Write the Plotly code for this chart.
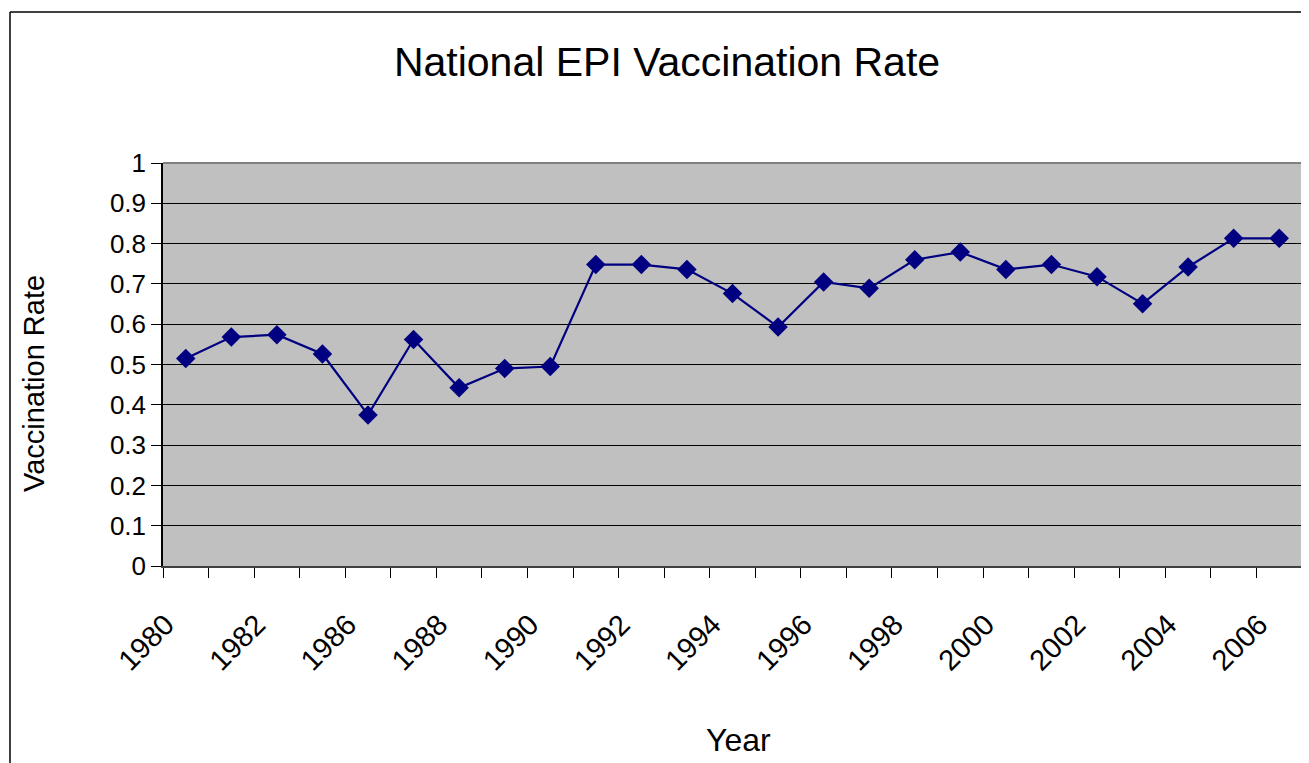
import plotly.graph_objects as go

years = ["1980", "1981", "1982", "1984", "1986", "1987", "1988", "1989", "1990",
         "1991", "1992", "1993", "1994", "1995", "1996", "1997", "1998", "1999",
         "2000", "2001", "2002", "2003", "2004", "2005", "2006"]
rates = [0.515, 0.568, 0.574, 0.526, 0.375, 0.562, 0.442, 0.490, 0.495,
         0.748, 0.748, 0.736, 0.676, 0.593, 0.705, 0.689, 0.760, 0.779,
         0.736, 0.748, 0.718, 0.651, 0.742, 0.813, 0.813]
tick_labels = ["1980", "", "1982", "", "1986", "", "1988", "", "1990", "", "1992", "",
               "1994", "", "1996", "", "1998", "", "2000", "", "2002", "", "2004", "", "2006"]
y_ticks = [0, 0.1, 0.2, 0.3, 0.4, 0.5, 0.6, 0.7, 0.8, 0.9, 1]
y_tick_text = ["0", "0.1", "0.2", "0.3", "0.4", "0.5", "0.6", "0.7", "0.8", "0.9", "1"]

FONT = "Liberation Sans, Arial, sans-serif"
W, H = 1309, 763
OFF = 8  # page body margin offset
L, R, T, B = 155, 15, 155, 205
pw, ph = W - L - R, H - T - B
X0, Y1 = L + OFF, H - B + OFF  # plot left and bottom in screen px

def px(x):
    return (x - X0) / pw

def py(y):
    return (Y1 - y) / ph

fig = go.Figure()
fig.add_trace(go.Scatter(
    x=years, y=rates, mode="lines+markers",
    line=dict(color="#000080", width=2.2),
    marker=dict(symbol="diamond", size=15, color="#000080"),
    showlegend=False, cliponaxis=False,
))

fig.update_layout(
    width=W, height=H,
    margin=dict(l=L, r=R, t=T, b=B),
    paper_bgcolor="white",
    plot_bgcolor="#C0C0C0",
    font=dict(family=FONT, color="black", size=26),
    title=dict(text="National EPI Vaccination Rate", x=(667 - OFF) / W, xanchor="center",
               y=1 - (62 - OFF) / H, yanchor="middle",
               font=dict(family=FONT, size=41, color="black")),
    xaxis=dict(type="category", categoryorder="array", categoryarray=years,
               tickmode="array", tickvals=years, ticktext=tick_labels,
               tickson="boundaries", ticks="outside", ticklen=10, tickcolor="black",
               tickangle=-45, showgrid=False, showline=True, linecolor="#404040",
               linewidth=2, range=[-0.5, len(years) - 0.5],
               ticklabelstandoff=28, ticklabelshift=-20,
               tickfont=dict(family=FONT, size=29, color="black")),
    yaxis=dict(range=[0, 1], tickmode="array", tickvals=y_ticks, ticktext=y_tick_text,
               ticks="outside", ticklen=10, tickcolor="black",
               showgrid=True, gridcolor="black", gridwidth=1,
               showline=True, linecolor="black", linewidth=1.5, zeroline=False,
               tickfont=dict(family=FONT, size=26, color="black")),
    annotations=[
        dict(text="Vaccination Rate", xref="paper", yref="paper", x=px(34), y=py(384),
             showarrow=False, textangle=-90, xanchor="center", yanchor="middle",
             font=dict(family=FONT, size=29, color="black")),
        dict(text="Year", xref="paper", yref="paper", x=px(738), y=py(740),
             showarrow=False, xanchor="center", yanchor="middle",
             font=dict(family=FONT, size=32, color="black")),
    ],
    shapes=[
        dict(type="line", xref="paper", yref="paper", x0=0, x1=1, y0=1, y1=1,
             line=dict(color="#808080", width=2), layer="above"),
        dict(type="line", xref="paper", yref="paper", x0=1, x1=1, y0=0, y1=1,
             line=dict(color="#808080", width=2), layer="above"),
        dict(type="line", xref="paper", yref="paper", x0=px(10), x1=px(1330),
             y0=py(12), y1=py(12), line=dict(color="black", width=1.5)),
        dict(type="line", xref="paper", yref="paper", x0=px(10), x1=px(10),
             y0=py(12), y1=py(800), line=dict(color="black", width=1.5)),
    ],
)

fig.write_html("out.html")
